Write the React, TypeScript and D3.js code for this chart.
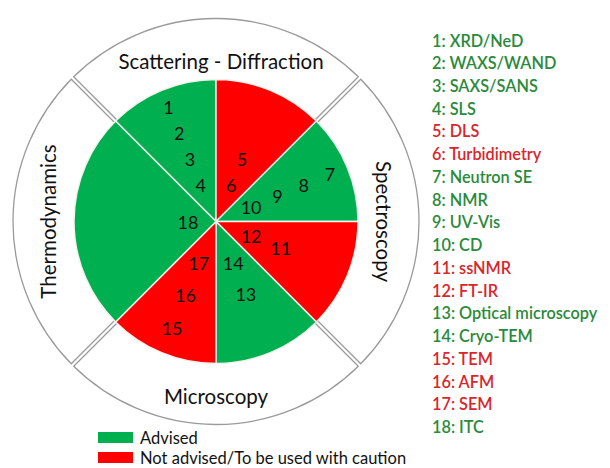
import * as d3 from 'd3'

// technique names, numbered 1..18
const TECHNIQUES = [
  'XRD/NeD', 'WAXS/WAND', 'SAXS/SANS', 'SLS', 'DLS', 'Turbidimetry',
  'Neutron SE', 'NMR', 'UV-Vis', 'CD', 'ssNMR', 'FT-IR',
  'Optical microscopy', 'Cryo-TEM', 'TEM', 'AFM', 'SEM', 'ITC',
]
const ADVISED = [
  true, true, true, true, false, false,
  true, true, true, true, false, false,
  true, true, false, false, false, true,
]

// pie slices, clockwise from north-west; numbers listed from centre outward
const SLICE_ITEMS = [[4, 3, 2, 1], [6, 5], [10, 9, 8, 7], [12, 11], [14, 13], [17, 16, 15], [18]]
const SLICE_SPAN = [1, 1, 1, 1, 1, 1, 2]
const SLICE_ADVISED = [true, false, true, false, true, false, true]

const CATEGORIES = ['Scattering - Diffraction', 'Spectroscopy', 'Microscopy', 'Thermodynamics']
const LEGEND_LABELS = ['Advised', 'Not advised/To be used with caution']

const GREEN = '#00b050'
const RED = '#ff0000'
const TEXT_GREEN = '#2a8a3a'
const TEXT_RED = '#d8262b'
const FONT = 'Lato, "Open Sans", sans-serif'

// layout: first label radius and step for each slice
const LABEL_R0 = [40, 40, 38, 38, 45, 45, 28]
const LABEL_STEP = [28, 28, 28.5, 32, 33, 35, 0]
const TITLE_R = [161, 168, 174, 168]

export default function App() {
  const width = 610
  const height = 468
  const cx = 216
  const cy = 221.5
  const r = 142
  const ringR = 203

  const start = -Math.PI / 4
  const pie = d3.pie<number>().value((d) => d).sort(null).startAngle(start).endAngle(start + 2 * Math.PI)
  const slices = pie(SLICE_SPAN)
  const arc = d3.arc<d3.PieArcDatum<number>>().innerRadius(0).outerRadius(r)

  const ringPie = d3.pie<string>().value(() => 1).sort(null).startAngle(start).endAngle(start + 2 * Math.PI)
  const ringArc = d3.arc<d3.PieArcDatum<string>>().innerRadius(r - 1).outerRadius(ringR).padAngle(0.014)

  const rowY = d3.scaleLinear().domain([0, TECHNIQUES.length - 1]).range([40, 426.7])

  return (
    <svg width={width} height={height} style={{ position: 'absolute', left: 0, top: 0, background: '#fff' }} fontFamily={FONT}>
      <g transform={`translate(${cx},${cy})`}>
        {ringPie(CATEGORIES).map((d, i) => {
          const mid = (d.startAngle + d.endAngle) / 2
          const tr = TITLE_R[i]
          const x = tr * Math.sin(mid) + (i === 0 ? 5 : 0)
          const y = -tr * Math.cos(mid)
          const rot = i === 1 ? 90 : i === 3 ? -90 : 0
          return (
            <g key={d.data}>
              <path d={ringArc(d) || ''} fill="#fff" stroke="#9a9a9a" strokeWidth={1.3} />
              <text
                transform={`translate(${x},${y}) rotate(${rot})`}
                textAnchor="middle"
                dominantBaseline="central"
                fontSize={20.5}
                fill="#111"
              >
                {d.data}
              </text>
            </g>
          )
        })}
        {slices.map((d, i) => (
          <path key={i} d={arc(d) || ''} fill={SLICE_ADVISED[i] ? GREEN : RED} stroke="#f2f2ee" strokeWidth={1.5} />
        ))}
        {slices.map((d, i) => {
          const mid = (d.startAngle + d.endAngle) / 2
          return SLICE_ITEMS[i].map((n, k) => {
            const lr = LABEL_R0[i] + k * LABEL_STEP[i]
            return (
              <text
                key={n}
                x={lr * Math.sin(mid)}
                y={-lr * Math.cos(mid)}
                textAnchor="middle"
                dominantBaseline="central"
                fontSize={18}
                fill="#111"
              >
                {n}
              </text>
            )
          })
        })}
      </g>

      {TECHNIQUES.map((t, i) => (
        <text
          key={t}
          x={432}
          y={rowY(i)}
          dominantBaseline="central"
          fontSize={16.3}
          fontWeight={600}
          fill={ADVISED[i] ? TEXT_GREEN : TEXT_RED}
        >
          {`${i + 1}: ${t}`}
        </text>
      ))}

      {LEGEND_LABELS.map((l, i) => (
        <g key={l} transform={`translate(98,${432 + i * 20})`}>
          <rect width={35} height={11} fill={i === 0 ? GREEN : RED} />
          <text x={42} y={5.5} dominantBaseline="central" fontSize={16.5} fill="#111">
            {l}
          </text>
        </g>
      ))}
    </svg>
  )
}
